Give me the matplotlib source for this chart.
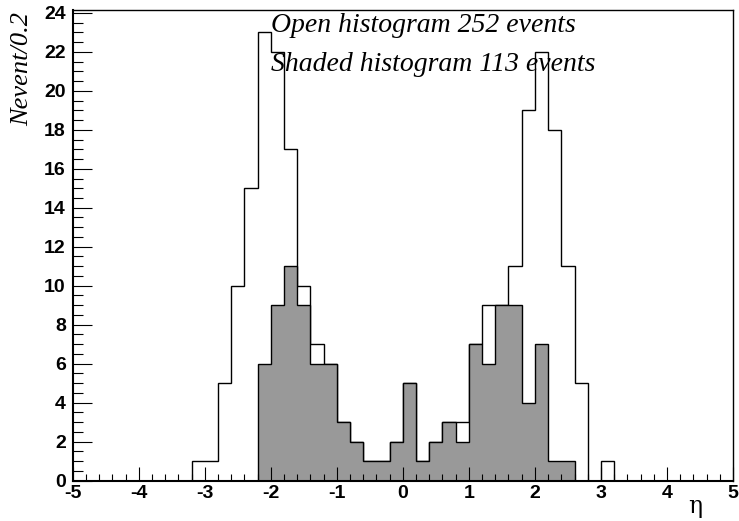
import numpy as np
import matplotlib
matplotlib.use("Agg")
import matplotlib.pyplot as plt
from matplotlib.ticker import MultipleLocator

plt.rcParams["axes.unicode_minus"] = False

# bins: 50 bins of width 0.2 from -5 to 5
bin_lo, bin_hi, n_bins = -5.0, 5.0, 50

open_counts = [0, 0, 0, 0, 0, 0, 0, 0, 0,
               1, 1, 5, 10, 15, 23, 22, 17, 10, 7, 6,
               3, 2, 1, 1, 2, 5, 1, 2, 3, 3,
               7, 9, 9, 11, 19, 22, 18, 11, 5, 0, 1,
               0, 0, 0, 0, 0, 0, 0, 0, 0]
shaded_counts = [0, 0, 0, 0, 0, 0, 0, 0, 0, 0, 0, 0, 0, 0,
                 6, 9, 11, 9, 6, 6, 3, 2, 1, 1, 2, 5, 1, 2, 3, 2,
                 7, 6, 9, 9, 4, 7, 1, 1,
                 0, 0, 0, 0, 0, 0, 0, 0, 0, 0, 0, 0]

text_lines = ["Open histogram 252 events", "Shaded histogram 113 events"]
x_label = "η"
y_label = "Nevent/0.2"

edges = np.linspace(bin_lo, bin_hi, n_bins + 1)

fig = plt.figure(figsize=(7.39, 5.21), dpi=100)
W, H = 739, 521
left, right, top, bottom = 72.7, 733, 10, 480.5
ax = fig.add_axes([left / W, (H - bottom) / H, (right - left) / W, (bottom - top) / H])

ax.stairs(open_counts, edges, baseline=0, color="black", linewidth=1.0, fill=False)
ax.stairs(shaded_counts, edges, baseline=0, color="#999999", fill=True, linewidth=0)
ax.stairs(shaded_counts, edges, baseline=0, color="black", linewidth=1.0, fill=False)

ax.set_xlim(-5, 5)
ax.set_ylim(0, 24.15)

ax.xaxis.set_major_locator(MultipleLocator(1))
ax.xaxis.set_minor_locator(MultipleLocator(0.2))
ax.yaxis.set_major_locator(MultipleLocator(2))
ax.yaxis.set_minor_locator(MultipleLocator(0.5))

ax.tick_params(axis="x", which="major", direction="in", length=10, width=0.8, pad=3,
               top=False)
ax.tick_params(axis="x", which="minor", direction="in", length=5, width=0.8, top=False)
ax.tick_params(axis="y", which="major", direction="in", length=14, width=0.8, pad=5,
               right=False)
ax.tick_params(axis="y", which="minor", direction="in", length=7, width=0.8, right=False)

for lab in ax.get_xticklabels() + ax.get_yticklabels():
    lab.set_fontfamily("Liberation Sans")
    lab.set_fontweight("bold")
    lab.set_fontsize(14)

for s in ["left", "bottom"]:
    ax.spines[s].set_linewidth(1.5)
for s in ["top", "right"]:
    ax.spines[s].set_linewidth(1.0)

ax.text(-2.0, 23.0, text_lines[0], fontfamily="Liberation Serif", fontstyle="italic",
        fontsize=20, ha="left", va="baseline")
ax.text(-2.0, 21.0, text_lines[1], fontfamily="Liberation Serif", fontstyle="italic",
        fontsize=20, ha="left", va="baseline")

fig.text(22 / W, 1 - 12 / H, y_label, rotation=90, fontfamily="Liberation Serif",
         fontstyle="italic", fontsize=19, ha="center", va="top")
fig.text(695 / W, 1 - 507 / H, x_label, fontfamily="DejaVu Serif", fontsize=17,
         ha="center", va="center")

fig.savefig("out.png", dpi=100)
